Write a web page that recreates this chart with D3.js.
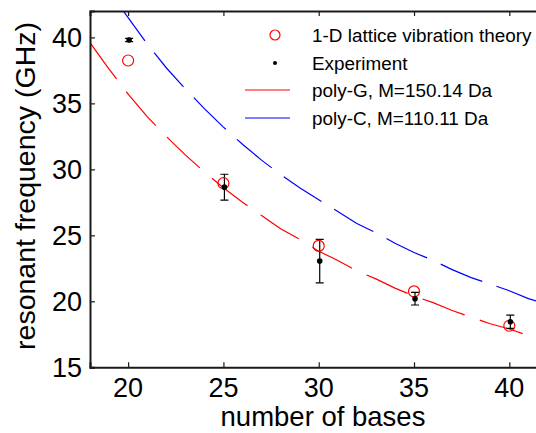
<!DOCTYPE html>
<html>
<head>
<meta charset="utf-8">
<script src="https://cdn.jsdelivr.net/npm/d3@7"></script>
<style>
  body { margin: 0; background: #fff; }
  svg { display: block; font-family: "Liberation Sans", Arial, sans-serif; }
</style>
</head>
<body>
<div id="vis"></div>
<script>

// number of bases where measurements were taken
var bases = [20, 25, 30, 35, 40];

// 1-D lattice vibration theory (red open circles)
var theory = [38.25, 28.95, 24.2, 20.75, 18.15];

// experiment (black dots) with error half-widths
var experiment = [39.8, 28.65, 23.05, 20.2, 18.45];
var expError = [0.12, 0.98, 1.65, 0.48, 0.5];

// poly-G curve, M=150.14 Da
var polyGN = [18, 19, 20, 21, 22, 23, 24, 25, 26, 27, 28, 29, 30, 31, 32, 33, 34, 35, 36, 37, 38, 39, 40, 40.9];
var polyGF = [39.6, 37.6, 35.7, 34.0, 32.5, 31.1, 29.8, 28.6, 27.5, 26.5, 25.5, 24.7, 23.8, 23.1, 22.3, 21.7, 21.0, 20.4, 19.9, 19.3, 18.8, 18.3, 17.9, 17.45];

// poly-C curve, M=110.11 Da
var polyCN = [19.5, 20, 21, 22, 23, 24, 25, 26, 27, 28, 29, 30, 31, 32, 33, 34, 35, 36, 37, 38, 39, 40, 41, 42];
var polyCF = [42.5, 41.5, 39.5, 37.7, 36.1, 34.6, 33.2, 31.9, 30.7, 29.6, 28.6, 27.7, 26.8, 25.9, 25.2, 24.4, 23.7, 23.1, 22.4, 21.8, 21.3, 20.8, 20.2, 19.8];

var xTicks = [20, 25, 30, 35, 40];
var yTicks = [15, 20, 25, 30, 35, 40];

var legendLabels = ['1-D lattice vibration theory', 'Experiment', 'poly-G, M=150.14 Da', 'poly-C, M=110.11 Da'];

var width = 536;
var height = 433;
var margin = { left: 90, top: 11, bottom: 65 };

var x = d3.scaleLinear().domain([18, 42]).range([margin.left, margin.left + 24 * 19.06]);
var y = d3.scaleLinear().domain([15, 42]).range([height - margin.bottom - 0.7, margin.top]);

var svg = d3.select('#vis').append('svg')
  .attr('width', width)
  .attr('height', height);

svg.append('clipPath').attr('id', 'plotclip')
  .append('rect')
  .attr('x', x(18)).attr('y', y(42))
  .attr('width', x(42) - x(18)).attr('height', y(15) - y(42));

var plot = svg.append('g').attr('clip-path', 'url(#plotclip)');

var line = d3.line()
  .x(function (d) { return x(d[0]); })
  .y(function (d) { return y(d[1]); });

// theory curves, long dashes
plot.append('path')
  .datum(d3.zip(polyGN, polyGF))
  .attr('d', line)
  .attr('fill', 'none')
  .attr('stroke', '#ff0000')
  .attr('stroke-width', 1.2)
  .attr('stroke-dasharray', '45,16');

plot.append('path')
  .datum(d3.zip(polyCN, polyCF))
  .attr('d', line)
  .attr('fill', 'none')
  .attr('stroke', '#0000ff')
  .attr('stroke-width', 1.2)
  .attr('stroke-dasharray', '45,15');

// error bars
var eb = plot.selectAll('.errbar')
  .data(d3.range(bases.length))
  .enter().append('g')
  .attr('class', 'errbar')
  .attr('stroke', '#000')
  .attr('stroke-width', 1.2);

eb.append('line')
  .attr('x1', function (i) { return x(bases[i]) + 1; })
  .attr('x2', function (i) { return x(bases[i]) + 1; })
  .attr('y1', function (i) { return y(experiment[i] - expError[i]); })
  .attr('y2', function (i) { return y(experiment[i] + expError[i]); });

[-1, 1].forEach(function (s) {
  eb.append('line')
    .attr('x1', function (i) { return x(bases[i]) + 1 - 4; })
    .attr('x2', function (i) { return x(bases[i]) + 1 + 4; })
    .attr('y1', function (i) { return y(experiment[i] + s * expError[i]); })
    .attr('y2', function (i) { return y(experiment[i] + s * expError[i]); });
});

plot.selectAll('.theory')
  .data(d3.zip(bases, theory))
  .enter().append('circle')
  .attr('class', 'theory')
  .attr('cx', function (d) { return x(d[0]); })
  .attr('cy', function (d) { return y(d[1]); })
  .attr('r', 5.5)
  .attr('fill', 'none')
  .attr('stroke', '#ff0000')
  .attr('stroke-width', 1.2);

plot.selectAll('.exp')
  .data(d3.zip(bases, experiment))
  .enter().append('circle')
  .attr('class', 'exp')
  .attr('cx', function (d) { return x(d[0]) + 1; })
  .attr('cy', function (d) { return y(d[1]); })
  .attr('r', 2.8)
  .attr('fill', '#000');

// axes: ticks point inward, labels drawn separately
var axisColor = '#1a1a1a';

var xAxis = svg.append('g')
  .attr('transform', 'translate(0,' + y(15) + ')')
  .call(d3.axisTop(x).tickValues(xTicks).tickSize(5).tickFormat(''));

var xAxisTop = svg.append('g')
  .attr('transform', 'translate(0,' + y(42) + ')')
  .call(d3.axisBottom(x).tickValues(xTicks).tickSize(5).tickFormat(''));

var yAxis = svg.append('g')
  .attr('transform', 'translate(' + x(18) + ',0)')
  .call(d3.axisRight(y).tickValues(yTicks).tickSize(5).tickFormat(''));

[xAxis, xAxisTop, yAxis].forEach(function (g) {
  g.select('.domain').attr('stroke', axisColor).attr('stroke-width', 2);
  g.selectAll('.tick line').attr('stroke', axisColor).attr('stroke-width', 1.2);
});

svg.selectAll('.xlab')
  .data(xTicks)
  .enter().append('text')
  .attr('class', 'xlab')
  .attr('x', function (d) { return x(d); })
  .attr('y', y(15) + 30)
  .attr('text-anchor', 'middle')
  .attr('font-size', 27)
  .text(function (d) { return d; });

svg.selectAll('.ylab')
  .data(yTicks)
  .enter().append('text')
  .attr('class', 'ylab')
  .attr('x', x(18) - 8)
  .attr('y', function (d) { return y(d) + 9.5; })
  .attr('text-anchor', 'end')
  .attr('font-size', 27)
  .text(function (d) { return d; });

svg.append('text')
  .attr('x', 323)
  .attr('y', 426)
  .attr('text-anchor', 'middle')
  .attr('font-size', 27.5)
  .text('number of bases');

svg.append('text')
  .attr('transform', 'translate(35,186) rotate(-90)')
  .attr('text-anchor', 'middle')
  .attr('font-size', 28.5)
  .text('resonant frequency (GHz)');

// legend
var legend = svg.append('g');
var legendY = [35, 63, 90, 118];

legend.append('circle')
  .attr('cx', 275).attr('cy', legendY[0]).attr('r', 5)
  .attr('fill', 'none').attr('stroke', '#ff0000').attr('stroke-width', 1.2);

legend.append('circle')
  .attr('cx', 275).attr('cy', legendY[1]).attr('r', 2)
  .attr('fill', '#000');

legend.append('line')
  .attr('x1', 245).attr('x2', 290)
  .attr('y1', legendY[2]).attr('y2', legendY[2])
  .attr('stroke', '#ff0000').attr('stroke-width', 1.2);

legend.append('line')
  .attr('x1', 245).attr('x2', 290)
  .attr('y1', legendY[3]).attr('y2', legendY[3])
  .attr('stroke', '#0000ff').attr('stroke-width', 1.2);

legend.selectAll('.legtext')
  .data(legendLabels)
  .enter().append('text')
  .attr('class', 'legtext')
  .attr('x', 312)
  .attr('y', function (d, i) { return legendY[i] + 6.8; })
  .attr('font-size', 18.9)
  .text(function (d) { return d; });

</script>
</body>
</html>
